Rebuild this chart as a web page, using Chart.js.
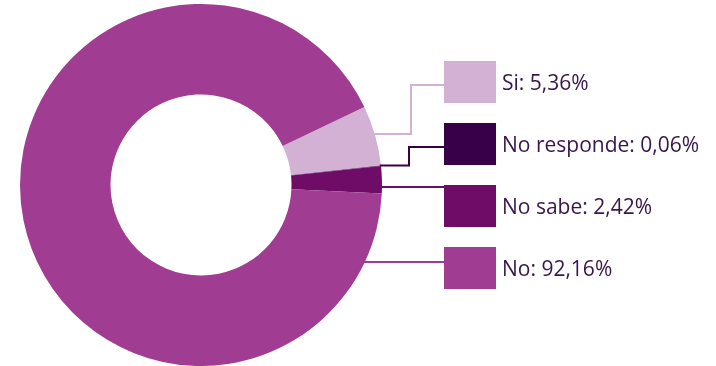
<!DOCTYPE html>
<html>
<head>
<meta charset="utf-8">
<script src="https://cdn.jsdelivr.net/npm/chart.js@4/dist/chart.umd.min.js"></script>
<style>
  html, body { margin: 0; padding: 0; background: #fff; }
</style>
</head>
<body>
<canvas id="myChart" width="716" height="366"></canvas>
<script>
const labels = ['Si', 'No responde', 'No sabe', 'No'];
const values = [5.36, 0.06, 2.42, 92.16];
const colors = ['#d2b1d4', '#380048', '#6e0c68', '#a03d93'];

// leader lines: y where they leave the ring, x of the elbow, y where they hit the box
const leaderStartY = [134, 165.5, 187, 262];
const leaderBendX = [411, 409, null, null];
const leaderEndY = [85, 147, 187, 262];

const legendBox = { x: 444, top: 61, step: 62, w: 52, h: 42, textX: 502 };

function pct(v) {
  return v.toFixed(2).replace('.', ',') + '%';
}

const calloutPlugin = {
  id: 'callouts',
  afterDraw(chart) {
    const ctx = chart.ctx;
    const arc = chart.getDatasetMeta(0).data[0];
    const cx = arc.x, cy = arc.y, r = arc.outerRadius;

    ctx.save();
    // leader lines first, boxes drawn on top
    labels.forEach((lab, i) => {
      const y0 = leaderStartY[i];
      const x0 = cx + Math.sqrt(r * r - (y0 - cy) * (y0 - cy)) - 1;
      ctx.beginPath();
      ctx.strokeStyle = colors[i];
      ctx.lineWidth = 2;
      ctx.lineJoin = 'miter';
      ctx.moveTo(x0, y0);
      if (leaderBendX[i] !== null) {
        ctx.lineTo(leaderBendX[i], y0);
        ctx.lineTo(leaderBendX[i], leaderEndY[i]);
      }
      ctx.lineTo(legendBox.x + 2, leaderEndY[i]);
      ctx.stroke();
    });

    ctx.font = '21px "Open Sans"';
    ctx.textAlign = 'left';
    ctx.textBaseline = 'alphabetic';
    labels.forEach((lab, i) => {
      const top = legendBox.top + i * legendBox.step;
      ctx.fillStyle = colors[i];
      ctx.fillRect(legendBox.x, top, legendBox.w, legendBox.h);
      ctx.fillStyle = '#38164c';
      ctx.fillText(lab + ': ' + pct(values[i]), legendBox.textX, top + legendBox.h / 2 + 7.5);
    });
    ctx.restore();
  }
};

const ctx = document.getElementById('myChart').getContext('2d');
new Chart(ctx, {
  type: 'doughnut',
  data: {
    labels: labels,
    datasets: [{
      data: values,
      backgroundColor: colors,
      borderWidth: 0
    }]
  },
  options: {
    responsive: false,
    devicePixelRatio: 1,
    animation: false,
    rotation: 64.5,
    cutout: '50%',
    layout: { padding: { left: 20, right: 334, top: 4, bottom: 0 } },
    plugins: {
      legend: { display: false },
      tooltip: { enabled: false }
    }
  },
  plugins: [calloutPlugin]
});
</script>
</body>
</html>
